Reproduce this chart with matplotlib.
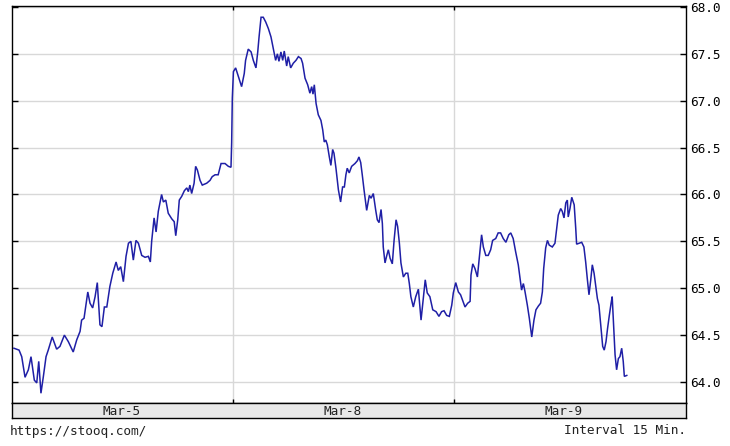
import matplotlib
matplotlib.use("Agg")
import matplotlib.pyplot as plt
import numpy as np

# time in trading days from start of Mar-5 (day boundaries at 1.0 and 2.0)
t_mar5 = [0.009, 0.032, 0.044, 0.059, 0.074, 0.086, 0.101, 0.112, 0.121, 0.131,
          0.142, 0.154, 0.164, 0.182, 0.202, 0.217, 0.237, 0.255, 0.277, 0.293,
          0.308, 0.315, 0.326, 0.343, 0.353, 0.365, 0.376, 0.386, 0.398, 0.407,
          0.418, 0.429, 0.443, 0.456, 0.471, 0.481, 0.492, 0.504, 0.516, 0.527,
          0.538, 0.549, 0.561, 0.572, 0.587, 0.602, 0.617, 0.626, 0.632, 0.643,
          0.652, 0.662, 0.677, 0.685, 0.696, 0.707, 0.723, 0.734, 0.741, 0.750,
          0.757, 0.768, 0.780, 0.791, 0.798, 0.805, 0.813, 0.824, 0.831, 0.839,
          0.851, 0.861, 0.881, 0.896, 0.906, 0.919, 0.933, 0.946, 0.964, 0.979,
          0.991]
p_mar5 = [64.36, 64.34, 64.27, 64.05, 64.13, 64.27, 64.02, 63.99, 64.22, 63.88,
          64.06, 64.27, 64.34, 64.48, 64.35, 64.38, 64.50, 64.43, 64.32, 64.45,
          64.54, 64.66, 64.68, 64.96, 64.84, 64.79, 64.91, 65.06, 64.61, 64.59,
          64.80, 64.80, 65.02, 65.16, 65.28, 65.19, 65.23, 65.07, 65.34, 65.48,
          65.50, 65.30, 65.51, 65.48, 65.35, 65.33, 65.34, 65.28, 65.50, 65.75,
          65.60, 65.82, 66.00, 65.92, 65.94, 65.80, 65.74, 65.71, 65.56, 65.73,
          65.94, 65.98, 66.04, 66.07, 66.03, 66.10, 66.01, 66.12, 66.30, 66.26,
          66.15, 66.10, 66.12, 66.15, 66.19, 66.21, 66.21, 66.33, 66.33, 66.30,
          66.29]

t_mar8 = [0.994, 0.997, 1.002, 1.012, 1.024, 1.039, 1.051, 1.057, 1.069, 1.082,
          1.092, 1.104, 1.112, 1.118, 1.127, 1.137, 1.148, 1.160, 1.172, 1.182,
          1.193, 1.201, 1.208, 1.217, 1.225, 1.232, 1.243, 1.250, 1.261, 1.273,
          1.285, 1.296, 1.308, 1.315, 1.326, 1.338, 1.348, 1.356, 1.362, 1.368,
          1.376, 1.386, 1.398, 1.406, 1.413, 1.420, 1.427, 1.436, 1.443, 1.451,
          1.457, 1.466, 1.477, 1.487, 1.496, 1.504, 1.511, 1.517, 1.526, 1.537,
          1.552, 1.563, 1.570, 1.578, 1.585, 1.593, 1.605, 1.617, 1.625, 1.635,
          1.646, 1.653, 1.661, 1.670, 1.676, 1.680, 1.688, 1.696, 1.703, 1.711,
          1.721, 1.729, 1.738, 1.745, 1.753, 1.760, 1.771, 1.782, 1.791, 1.798,
          1.805, 1.816, 1.827, 1.839, 1.851, 1.862, 1.870, 1.879, 1.891, 1.904,
          1.919, 1.932, 1.944, 1.955, 1.967, 1.979, 1.990]
p_mar8 = [66.55, 67.03, 67.31, 67.35, 67.26, 67.15, 67.29, 67.43, 67.55, 67.52,
          67.43, 67.35, 67.52, 67.68, 67.89, 67.89, 67.84, 67.77, 67.68, 67.56,
          67.43, 67.50, 67.42, 67.52, 67.43, 67.53, 67.37, 67.47, 67.35, 67.40,
          67.43, 67.47, 67.45, 67.40, 67.24, 67.17, 67.08, 67.15, 67.07, 67.17,
          66.97, 66.85, 66.79, 66.69, 66.56, 66.58, 66.53, 66.40, 66.31, 66.48,
          66.44, 66.28, 66.05, 65.92, 66.08, 66.08, 66.21, 66.28, 66.23, 66.30,
          66.33, 66.36, 66.40, 66.34, 66.21, 66.05, 65.83, 65.99, 65.96, 66.01,
          65.83, 65.73, 65.70, 65.84, 65.69, 65.44, 65.27, 65.35, 65.41, 65.32,
          65.26, 65.51, 65.73, 65.66, 65.48, 65.27, 65.12, 65.16, 65.16, 65.05,
          64.91, 64.80, 64.91, 64.99, 64.66, 64.91, 65.09, 64.95, 64.91, 64.77,
          64.75, 64.70, 64.75, 64.76, 64.71, 64.70, 64.82]

t_mar9 = [1.997, 2.008, 2.020, 2.030, 2.039, 2.050, 2.062, 2.073, 2.077, 2.085,
          2.095, 2.106, 2.115, 2.125, 2.133, 2.144, 2.155, 2.166, 2.175, 2.189,
          2.200, 2.211, 2.223, 2.235, 2.248, 2.257, 2.268, 2.279, 2.291, 2.299,
          2.306, 2.314, 2.321, 2.332, 2.341, 2.352, 2.362, 2.371, 2.382, 2.392,
          2.400, 2.406, 2.415, 2.423, 2.431, 2.445, 2.457, 2.465, 2.472, 2.483,
          2.490, 2.498, 2.506, 2.513, 2.517, 2.525, 2.533, 2.540, 2.544, 2.551,
          2.555, 2.566, 2.578, 2.588, 2.596, 2.603, 2.611, 2.619, 2.626, 2.634,
          2.641, 2.649, 2.656, 2.664, 2.673, 2.680, 2.688, 2.695, 2.703, 2.711,
          2.716, 2.723, 2.729, 2.736, 2.744, 2.751, 2.759, 2.766, 2.771, 2.782]
p_mar9 = [64.95, 65.06, 64.96, 64.93, 64.87, 64.80, 64.84, 64.86, 65.14, 65.26,
          65.21, 65.12, 65.33, 65.57, 65.44, 65.35, 65.35, 65.41, 65.51, 65.53,
          65.59, 65.59, 65.53, 65.49, 65.57, 65.59, 65.53, 65.39, 65.25, 65.11,
          64.98, 65.05, 64.97, 64.82, 64.68, 64.48, 64.66, 64.77, 64.81, 64.84,
          64.96, 65.21, 65.43, 65.51, 65.46, 65.44, 65.48, 65.64, 65.78, 65.85,
          65.82, 65.75, 65.91, 65.94, 65.76, 65.85, 65.97, 65.92, 65.89, 65.64,
          65.47, 65.48, 65.49, 65.44, 65.28, 65.11, 64.93, 65.09, 65.25, 65.16,
          65.03, 64.89, 64.82, 64.61, 64.38, 64.34, 64.43, 64.57, 64.71, 64.84,
          64.91, 64.57, 64.29, 64.13, 64.25, 64.27, 64.36, 64.22, 64.06, 64.07]

day_labels = ["Mar-5", "Mar-8", "Mar-9"]
day_bounds = [1.0, 2.0]
y_ticks = [64.0, 64.5, 65.0, 65.5, 66.0, 66.5, 67.0, 67.5, 68.0]

t_all = t_mar5 + t_mar8 + t_mar9
p_all = p_mar5 + p_mar8 + p_mar9

W, H = 730, 446
fig = plt.figure(figsize=(W / 100, H / 100), dpi=100)
mono = "DejaVu Sans Mono"
fs = 9.2

x0, x1 = 12, 686
ytop, ybot = 6, 403
ax = fig.add_axes([x0 / W, 1 - ybot / H, (x1 - x0) / W, (ybot - ytop) / H])
ax.plot(t_all, p_all, color="#1f1fa6", lw=1.1, solid_joinstyle="miter")
ax.set_xlim(0, 3.05)
ax.set_ylim(63.776, 68.01)

for yv in y_ticks:
    ax.axhline(yv, color="#d8d8d8", lw=1.0, zorder=0)
for xv in day_bounds:
    ax.axvline(xv, color="#d8d8d8", lw=1.0, zorder=0)

ax.set_yticks(y_ticks)
ax.set_yticklabels([f"{v:.1f}" for v in y_ticks], fontfamily=mono, fontsize=fs,
                   color="#222222")
ax.yaxis.tick_right()
ax.tick_params(axis="y", which="both", direction="in", length=4, width=1,
               left=True, right=True, labelleft=False, labelright=True, pad=3,
               colors="black")
ax.set_xticks(day_bounds)
ax.tick_params(axis="x", direction="in", length=3, width=1, top=True,
               bottom=True, labelbottom=False)
for s in ax.spines.values():
    s.set_linewidth(1.0)
    s.set_color("black")

# date band
band_top, band_bot = 403, 418
bx = fig.add_axes([x0 / W, 1 - band_bot / H, (x1 - x0) / W, (band_bot - band_top) / H])
bx.set_facecolor("#e8e8e8")
bx.set_xlim(0, 3.05)
bx.set_ylim(0, 1)
bx.set_xticks([])
bx.set_yticks([])
for s in bx.spines.values():
    s.set_linewidth(1.0)
    s.set_color("black")
for i, lab in enumerate(day_labels):
    bx.text(i + 0.495, 0.45, lab, ha="center", va="center", fontfamily=mono,
            fontsize=fs, color="#222222")

fig.text(10 / W, 1 - 431 / H, "https://stooq.com/", ha="left", va="center",
         fontfamily=mono, fontsize=fs, color="#222222")
fig.text(686 / W, 1 - 431 / H, "Interval 15 Min.", ha="right", va="center",
         fontfamily=mono, fontsize=fs, color="#222222")

fig.savefig("out.png", dpi=100)
